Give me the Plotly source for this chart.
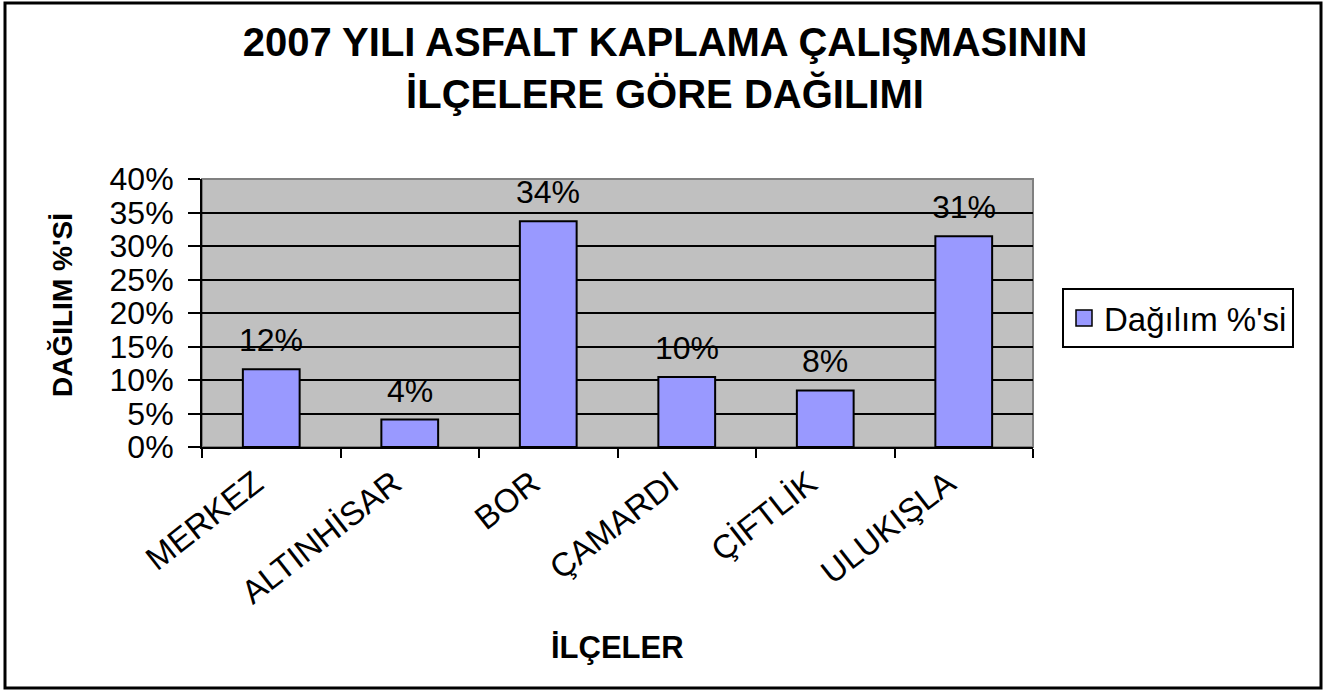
import plotly.graph_objects as go

categories = ["MERKEZ", "ALTINHİSAR", "BOR", "ÇAMARDI", "ÇİFTLİK", "ULUKIŞLA"]
values = [11.6, 4.1, 33.7, 10.45, 8.45, 31.45]
value_labels = ["12%", "4%", "34%", "10%", "8%", "31%"]
y_ticks = [0, 5, 10, 15, 20, 25, 30, 35, 40]
series_name = "Dağılım %'si"
title_lines = ["2007 YILI ASFALT KAPLAMA ÇALIŞMASININ", "İLÇELERE GÖRE DAĞILIMI"]
x_title = "İLÇELER"
y_title = "DAĞILIM %'Sİ"

FONT = "Liberation Sans, Arial, sans-serif"
BAR_COLOR = "#9999FF"
W, H = 1330, 690
L, R, T, B = 202, 297, 179, 243
pw, ph = W - L - R, H - T - B

def px_x(p):
    return (p - L) / pw

def px_y(p):
    return (H - B - p) / ph

fig = go.Figure()
fig.add_trace(go.Bar(
    x=categories, y=values, name=series_name,
    marker=dict(color=BAR_COLOR, line=dict(color="black", width=2)),
    showlegend=False,
))
# legend entry only (no drawn points)
fig.add_trace(go.Scatter(
    x=[None], y=[None], mode="markers", name=series_name,
    marker=dict(symbol="square", size=18, color=BAR_COLOR, line=dict(color="black", width=1.5)),
    showlegend=True,
))

annotations = []
for c, v, t in zip(categories, values, value_labels):
    annotations.append(dict(x=c, y=v, xref="x", yref="y", text=t, showarrow=False,
                            yanchor="middle", yshift=29,
                            font=dict(family=FONT, size=32, color="black")))

annotations.append(dict(x=0.5, y=px_y(647), xref="paper", yref="paper", text=f"<b>{x_title}</b>",
                        showarrow=False, xanchor="center", yanchor="middle",
                        font=dict(family=FONT, size=31, color="black")))
annotations.append(dict(x=px_x(62), y=px_y(305), xref="paper", yref="paper", text=f"<b>{y_title}</b>",
                        showarrow=False, xanchor="center", yanchor="middle", textangle=-90,
                        font=dict(family=FONT, size=28, color="black")))

shapes = [
    dict(type="rect", xref="paper", yref="paper", x0=0, y0=0, x1=1, y1=1,
         line=dict(color="#808080", width=2), layer="below"),
    dict(type="rect", xref="paper", yref="paper", x0=px_x(5), y0=px_y(688), x1=px_x(1321), y1=px_y(3),
         line=dict(color="black", width=3)),
]

fig.update_layout(
    width=W, height=H,
    margin=dict(l=L, r=R, t=T, b=B, autoexpand=False),
    paper_bgcolor="white", plot_bgcolor="#C0C0C0",
    bargap=0.59,
    title=dict(text="<b>" + "<br>".join(title_lines) + "</b>", x=0.5, xref="container", xanchor="center",
               y=1 - 56 / H, yref="container", yanchor="middle",
               font=dict(family=FONT, size=40, color="black")),
    font=dict(family=FONT, color="black"),
    xaxis=dict(type="category", showgrid=False, showline=True, linecolor="black", linewidth=2,
               ticks="outside", tickson="boundaries", ticklen=9, tickwidth=2, tickcolor="black",
               tickangle=-38, tickfont=dict(family=FONT, size=33, color="black"),
               ticklabelstandoff=2, ticklabelshift=-16),
    yaxis=dict(range=[0, 40], tickvals=y_ticks, ticktext=[f"{v}%" for v in y_ticks],
               showgrid=True, gridcolor="black", gridwidth=2,
               showline=True, linecolor="black", linewidth=2, zeroline=False,
               ticks="outside", ticklen=12, tickwidth=2, tickcolor="black",
               tickfont=dict(family=FONT, size=32, color="black"), ticklabelstandoff=8),
    legend=dict(x=px_x(1062), y=px_y(288), xanchor="left", yanchor="top",
                bgcolor="white", bordercolor="black", borderwidth=2,
                font=dict(family=FONT, size=33, color="black"), itemwidth=30),
    annotations=annotations,
    shapes=shapes,
)

fig.write_html("out.html", config={"displayModeBar": False},
               post_script="document.body.style.margin='0';document.body.style.padding='0';document.body.style.overflow='hidden';")
